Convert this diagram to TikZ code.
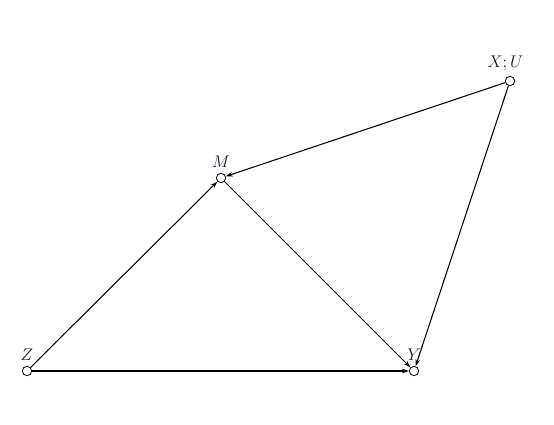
\documentclass[tikz,border=0pt]{standalone}
\usepackage{amsmath}
\usepackage{amssymb}
\usepackage{xcolor}
\usepackage{tikz}
\usetikzlibrary{arrows.meta}
\definecolor{labelblue}{RGB}{20, 22, 50}

\begin{document}
\begin{tikzpicture}[x = 0.03cm, y = -0.03cm,
			vert/.style = {circle, draw, fill = white, inner sep = 0pt, minimum size = 8pt, line width = 0.7pt},
			lab/.style = {label distance = 1pt, text = labelblue, font = \Large},
			every edge/.style = {draw, line width = 0.9pt, -{Stealth[length = 6pt, width = 4pt]}}]
			\useasboundingbox (0,0) rectangle (554,425);
			\node (z) at (27,371) [vert, label = {[lab]above:$Z$}] {};
			\node (m) at (221,178) [vert, label = {[lab]above:$M$}] {};
			\node (y) at (414,371) [vert, label = {[lab]above:$Y$}] {};
			\node (xu) at (510,81) [vert, label = {[lab, xshift = -4pt]above:$X;U$}] {};
			\draw (z) edge (m);
			\draw (z) edge (y);
			\draw (m) edge (y);
			\draw (xu) edge (m);
			\draw (xu) edge (y);
			\end{tikzpicture}
\end{document}
